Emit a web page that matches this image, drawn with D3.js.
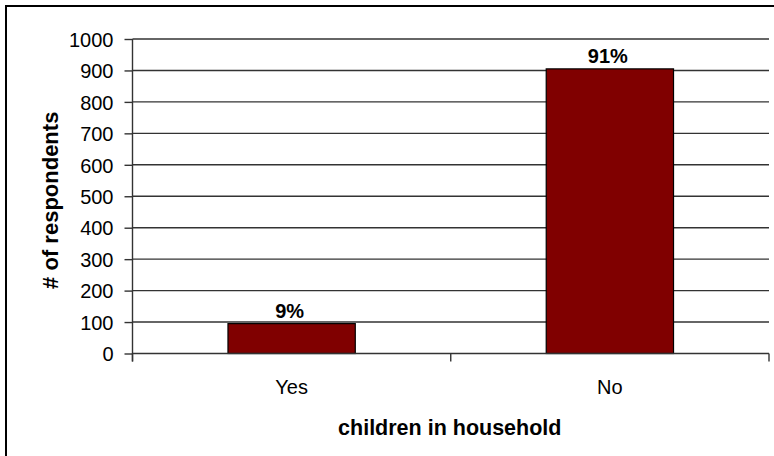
<!DOCTYPE html>
<html>
<head>
<meta charset="utf-8">
<script src="https://cdn.jsdelivr.net/npm/d3@7"></script>
<style>
  html, body { margin: 0; padding: 0; background: #fff; }
  svg { display: block; font-family: "Liberation Sans", Arial, sans-serif; }
</style>
</head>
<body>
<svg id="chart" width="774" height="456"></svg>
<script>
const categories = ["Yes", "No"];
const respondents = [95, 905];
const percentLabels = ["9%", "91%"];
const yTicks = [0, 100, 200, 300, 400, 500, 600, 700, 800, 900, 1000];
const xTitle = "children in household";
const yTitle = "# of respondents";

(function () {
const svg = d3.select("#chart");

// outer border (extends past the window on right/bottom)
svg.append("rect")
  .attr("x", 6).attr("y", 6).attr("width", 900).attr("height", 900)
  .attr("fill", "none").attr("stroke", "#000").attr("stroke-width", 2);

const pL = 132.5, pR = 769, pT = 39, pB = 353.5;

const y = d3.scaleLinear().domain([0, 1000]).range([pB, pT]);
const x = d3.scaleBand().domain(categories).range([pL, pR]).padding(0);

const lineColor = "#333";

// gridlines
svg.append("g").selectAll("line").data(yTicks.filter(d => d > 0)).join("line")
  .attr("x1", pL).attr("x2", pR)
  .attr("y1", d => y(d)).attr("y2", d => y(d))
  .attr("stroke", lineColor).attr("stroke-width", 1.4);

// y axis
const yAxis = svg.append("g")
  .attr("transform", `translate(${pL},0)`)
  .call(d3.axisLeft(y).tickValues(yTicks).tickFormat(d3.format("d"))
    .tickSize(8).tickPadding(11).tickSizeOuter(0));
yAxis.select(".domain").remove();
yAxis.selectAll(".tick line").attr("stroke", lineColor).attr("stroke-width", 1.4);
yAxis.selectAll(".tick text")
  .attr("fill", "#000").attr("font-size", 20)
  .attr("font-family", "Liberation Sans, Arial, sans-serif")
  .attr("dy", "0.36em");
svg.append("line")
  .attr("x1", pL).attr("x2", pL).attr("y1", pT).attr("y2", pB + 8)
  .attr("stroke", lineColor).attr("stroke-width", 1.4);

// bars
const barW = x.bandwidth() * 0.4;
svg.append("g").selectAll("rect").data(categories).join("rect")
  .attr("x", (d) => x(d) + x.bandwidth() / 2 - barW / 2)
  .attr("width", barW)
  .attr("y", (d, i) => y(respondents[i]))
  .attr("height", (d, i) => y(0) - y(respondents[i]))
  .attr("fill", "#800000").attr("stroke", "#000").attr("stroke-width", 1.2);

// x axis
svg.append("line")
  .attr("x1", pL).attr("x2", pR).attr("y1", pB).attr("y2", pB)
  .attr("stroke", lineColor).attr("stroke-width", 1.4);
const boundaries = categories.map(c => x(c)).concat([pR]);
svg.append("g").selectAll("line").data(boundaries).join("line")
  .attr("x1", d => d).attr("x2", d => d).attr("y1", pB).attr("y2", pB + 8)
  .attr("stroke", lineColor).attr("stroke-width", 1.4);

// category labels
svg.append("g").selectAll("text").data(categories).join("text")
  .attr("x", d => x(d) + x.bandwidth() / 2)
  .attr("y", 394)
  .attr("text-anchor", "middle")
  .attr("font-size", 20)
  .text(d => d);

// value labels
svg.append("g").selectAll("text").data(categories).join("text")
  .attr("x", d => x(d) + x.bandwidth() / 2 - 2)
  .attr("y", (d, i) => y(respondents[i]) - 6)
  .attr("text-anchor", "middle")
  .attr("font-size", 20).attr("font-weight", "bold")
  .text((d, i) => percentLabels[i]);

// axis titles
svg.append("text")
  .attr("x", (pL + pR) / 2 - 1).attr("y", 435)
  .attr("text-anchor", "middle")
  .attr("font-size", 21.5).attr("font-weight", "bold")
  .text(xTitle);

svg.append("text")
  .attr("transform", `translate(58,${(pT + pB) / 2 + 4}) rotate(-90)`)
  .attr("text-anchor", "middle")
  .attr("font-size", 22).attr("font-weight", "bold")
  .text(yTitle);
})();
</script>
</body>
</html>
